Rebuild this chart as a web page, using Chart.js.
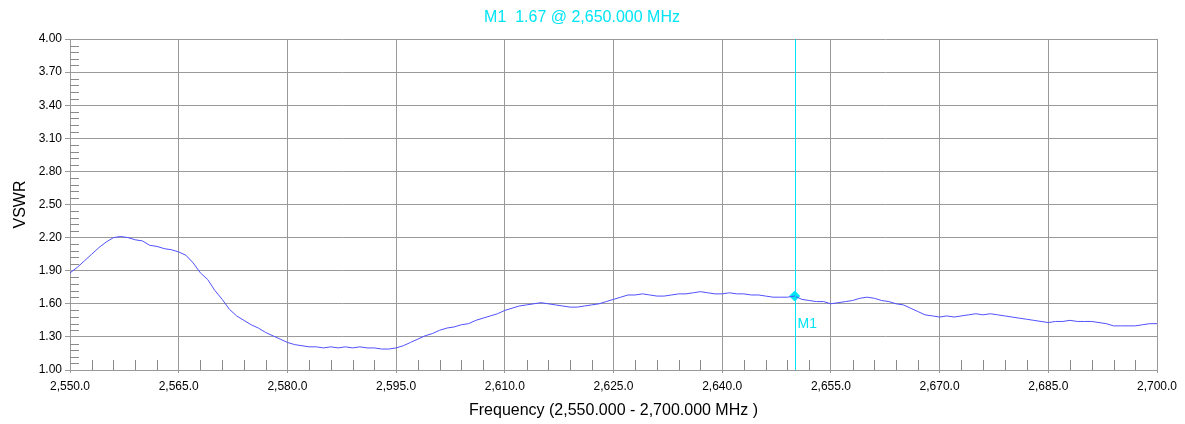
<!DOCTYPE html>
<html>
<head>
<meta charset="utf-8">
<script src="https://cdn.jsdelivr.net/npm/chart.js@4"></script>
<style>
  html, body { margin: 0; padding: 0; background: #fff; }
  #wrap { width: 1185px; height: 424px; }
</style>
</head>
<body>
<div id="wrap"><canvas id="canVswr"></canvas></div>
<script>
// frequency points (MHz) and VSWR
const freqs = []
for (let f = 2550; f <= 2700; f++) freqs.push(f)

const vswr = [
  1.88, 1.93, 1.99, 2.05, 2.11, 2.16, 2.20, 2.21, 2.20, 2.18,
  2.17, 2.13, 2.12, 2.10, 2.09, 2.07, 2.04, 1.97, 1.88, 1.82,
  1.72, 1.64, 1.55, 1.49, 1.45, 1.41, 1.38, 1.34, 1.31, 1.28,
  1.25, 1.23, 1.22, 1.21, 1.21, 1.20, 1.21, 1.20, 1.21, 1.20,
  1.21, 1.20, 1.20, 1.19, 1.19, 1.20, 1.22, 1.25, 1.28, 1.31,
  1.33, 1.36, 1.38, 1.39, 1.41, 1.42, 1.45, 1.47, 1.49, 1.51,
  1.54, 1.56, 1.58, 1.59, 1.60, 1.61, 1.60, 1.59, 1.58, 1.57,
  1.57, 1.58, 1.59, 1.60, 1.62, 1.64, 1.66, 1.68, 1.68, 1.69,
  1.68, 1.67, 1.67, 1.68, 1.69, 1.69, 1.70, 1.71, 1.70, 1.69,
  1.69, 1.70, 1.69, 1.69, 1.68, 1.68, 1.67, 1.66, 1.66, 1.66,
  1.67, 1.64, 1.63, 1.62, 1.62, 1.60, 1.61, 1.62, 1.63, 1.65,
  1.66, 1.65, 1.63, 1.62, 1.60, 1.59, 1.56, 1.53, 1.50, 1.49,
  1.48, 1.49, 1.48, 1.49, 1.50, 1.51, 1.50, 1.51, 1.50, 1.49,
  1.48, 1.47, 1.46, 1.45, 1.44, 1.43, 1.44, 1.44, 1.45, 1.44,
  1.44, 1.44, 1.43, 1.42, 1.40, 1.40, 1.40, 1.40, 1.41, 1.42,
  1.42
]

const markerName = 'M1'
const markerFreq = 2650
const markerVswr = 1.67

const xMin = 2550
const xMax = 2700
const xStep = 15
const xMinorStep = 3
const yMin = 1
const yMax = 4
const yStep = 0.3
const yMinorStep = 0.06

const blue = '#5050ff'
const cyan = '#00e4f4'
const gridGray = '#9a9a9a'
const fontFam = '"Liberation Sans", Arial, sans-serif'

const fmtFreq = v => v.toLocaleString('en-US', { minimumFractionDigits: 1, maximumFractionDigits: 1 })
const fmtFreq3 = v => v.toLocaleString('en-US', { minimumFractionDigits: 3, maximumFractionDigits: 3 })

// small inner ticks on the bottom and left edges
const minorTicks = {
  id: 'minorTicks',
  beforeDatasetsDraw (chart) {
    const { ctx, chartArea, scales } = chart
    ctx.save()
    ctx.strokeStyle = '#8a8a8a'
    ctx.lineWidth = 1
    ctx.beginPath()
    for (let f = xMin + xMinorStep; f < xMax; f += xMinorStep) {
      if ((f - xMin) % xStep === 0) continue
      const x = Math.round(scales.x.getPixelForValue(f)) + 0.5
      ctx.moveTo(x, chartArea.bottom)
      ctx.lineTo(x, chartArea.bottom - 10)
    }
    for (let i = 1; i < Math.round((yMax - yMin) / yMinorStep); i++) {
      if (i % 5 === 0) continue
      const y = Math.round(scales.y.getPixelForValue(yMin + i * yMinorStep)) + 0.5
      ctx.moveTo(chartArea.left, y)
      ctx.lineTo(chartArea.left + 9, y)
    }
    ctx.stroke()
    ctx.restore()
  }
}

// marker line, label and readout
const marker = {
  id: 'marker',
  afterDatasetsDraw (chart) {
    const { ctx, chartArea, scales } = chart
    const x = Math.round(scales.x.getPixelForValue(markerFreq)) + 0.5
    const y = scales.y.getPixelForValue(markerVswr)
    ctx.save()
    ctx.strokeStyle = cyan
    ctx.lineWidth = 1
    ctx.beginPath()
    ctx.moveTo(x, chartArea.top)
    ctx.lineTo(x, chartArea.bottom)
    ctx.stroke()
    ctx.fillStyle = cyan
    ctx.font = '14px ' + fontFam
    ctx.textAlign = 'left'
    ctx.textBaseline = 'middle'
    ctx.fillText(markerName, x + 2, y + 28)
    ctx.font = '16px ' + fontFam
    ctx.textAlign = 'center'
    ctx.fillText(markerName + '  ' + markerVswr.toFixed(2) + ' @ ' + fmtFreq3(markerFreq) + ' MHz', 582, 18)
    ctx.restore()
  }
}

new Chart(document.getElementById('canVswr'), {
  type: 'line',
  data: {
    datasets: [
      {
        label: 'VSWR',
        data: freqs.map((f, i) => ({ x: f, y: vswr[i] })),
        borderColor: blue,
        borderWidth: 1,
        pointRadius: 0,
        tension: 0
      },
      {
        label: markerName,
        data: [{ x: markerFreq, y: markerVswr }],
        showLine: false,
        pointStyle: 'rectRot',
        pointRadius: 5,
        pointBackgroundColor: cyan,
        pointBorderColor: cyan
      }
    ]
  },
  options: {
    responsive: true,
    maintainAspectRatio: false,
    animation: false,
    events: [],
    layout: { padding: { top: 39, right: 28, left: 0, bottom: 0 } },
    plugins: {
      legend: { display: false },
      tooltip: { enabled: false }
    },
    scales: {
      x: {
        type: 'linear',
        min: xMin,
        max: xMax,
        afterFit: s => { s.height = 54 },
        afterBuildTicks: s => {
          s.ticks = []
          for (let f = xMin; f <= xMax; f += xStep) s.ticks.push({ value: f })
        },
        grid: { color: gridGray, lineWidth: 1, tickLength: 3, drawTicks: true },
        border: { color: gridGray },
        ticks: {
          color: '#000',
          font: { family: fontFam, size: 12 },
          padding: 6,
          maxRotation: 0,
          autoSkip: false,
          callback: v => fmtFreq(v)
        },
        title: {
          display: true,
          text: 'Frequency (' + fmtFreq3(xMin) + ' - ' + fmtFreq3(xMax) + ' MHz )',
          color: '#000',
          font: { family: fontFam, size: 16 },
          padding: { top: 0, bottom: 4 }
        }
      },
      y: {
        min: yMin,
        max: yMax,
        afterFit: s => { s.width = 70 },
        afterBuildTicks: s => {
          s.ticks = []
          for (let i = 0; i <= Math.round((yMax - yMin) / yStep); i++) s.ticks.push({ value: yMin + i * yStep })
        },
        grid: { color: gridGray, lineWidth: 1, tickLength: 5 },
        border: { color: gridGray },
        ticks: {
          color: '#000',
          font: { family: fontFam, size: 12 },
          padding: 3,
          callback: v => v.toFixed(2)
        },
        title: {
          display: true,
          text: 'VSWR',
          color: '#000',
          font: { family: fontFam, size: 16 },
          padding: { top: 11, bottom: 0 }
        }
      }
    }
  },
  plugins: [minorTicks, marker]
})
</script>
</body>
</html>
